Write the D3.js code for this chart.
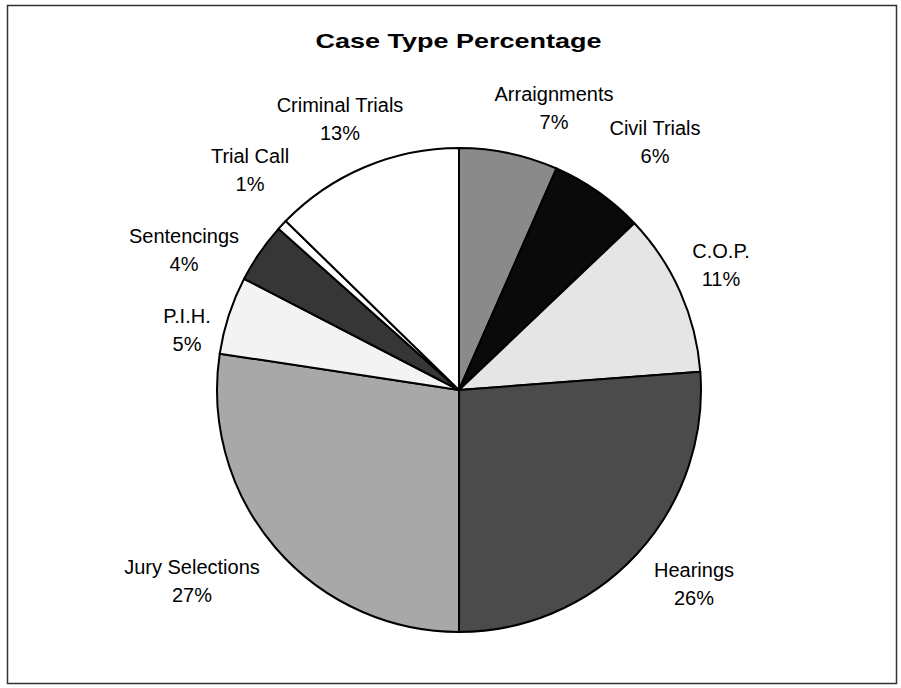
<!DOCTYPE html>
<html>
<head>
<meta charset="utf-8">
<script src="https://cdn.jsdelivr.net/npm/d3@7"></script>
<style>
  body { margin: 0; background: #fff; }
  svg { display: block; font-family: "Liberation Sans", Arial, sans-serif; }
</style>
</head>
<body>
<div id="chart"></div>
<script>
// slices, clockwise from 12 o'clock
var categories = ['Arraignments', 'Civil Trials', 'C.O.P.', 'Hearings',
  'Jury Selections', 'P.I.H.', 'Sentencings', 'Trial Call', 'Criminal Trials'];
var percents = [6.6, 6.3, 10.9, 26.2, 27.4, 5.2, 4.0, 0.7, 12.7];
var fills = ['#8a8a8a', '#0a0a0a', '#e5e5e5', '#4b4b4b',
  '#a8a8a8', '#f3f3f3', '#363636', '#ffffff', '#ffffff'];

// where excel dropped each label (centre of first line)
var labelPos = [[554, 94], [655, 128], [721, 251], [694, 570],
  [192, 567], [187, 316], [184, 236], [250, 156], [340, 105]];

var width = 901,
    height = 688,
    cx = 459,
    cy = 390,
    radius = 242;

var svg = d3.select('#chart')
  .append('svg')
  .attr('width', width)
  .attr('height', height);

// outer frame
svg.append('rect')
  .attr('x', 7.5)
  .attr('y', 5.5)
  .attr('width', 889)
  .attr('height', 678)
  .attr('fill', 'none')
  .attr('stroke', '#333')
  .attr('stroke-width', 1.5);

// title
svg.append('text')
  .attr('x', 458.5)
  .attr('y', 48)
  .attr('text-anchor', 'middle')
  .attr('textLength', 286)
  .attr('lengthAdjust', 'spacingAndGlyphs')
  .style('font-size', '21px')
  .style('font-weight', 'bold')
  .text('Case Type Percentage');

var pie = d3.pie()
  .sort(null)
  .value(function (d) { return d; });

var arc = d3.arc()
  .innerRadius(0)
  .outerRadius(radius);

var g = svg.append('g')
  .attr('transform', 'translate(' + cx + ',' + cy + ')');

g.selectAll('path')
  .data(pie(percents))
  .enter()
  .append('path')
  .attr('d', arc)
  .attr('fill', function (d, i) { return fills[i]; })
  .attr('stroke', '#000')
  .attr('stroke-width', 2)
  .attr('stroke-linejoin', 'round');

// labels: name on top, percentage below
var fmt = d3.format('.0%');
var labels = svg.selectAll('text.lbl')
  .data(categories)
  .enter()
  .append('text')
  .attr('class', 'lbl')
  .attr('text-anchor', 'middle')
  .style('font-size', '20px')
  .attr('fill', '#000');

labels.append('tspan')
  .attr('x', function (d, i) { return labelPos[i][0]; })
  .attr('y', function (d, i) { return labelPos[i][1] + 7; })
  .text(function (d) { return d; });

labels.append('tspan')
  .attr('x', function (d, i) { return labelPos[i][0]; })
  .attr('y', function (d, i) { return labelPos[i][1] + 35; })
  .text(function (d, i) { return fmt(percents[i] / 100); });
</script>
</body>
</html>
